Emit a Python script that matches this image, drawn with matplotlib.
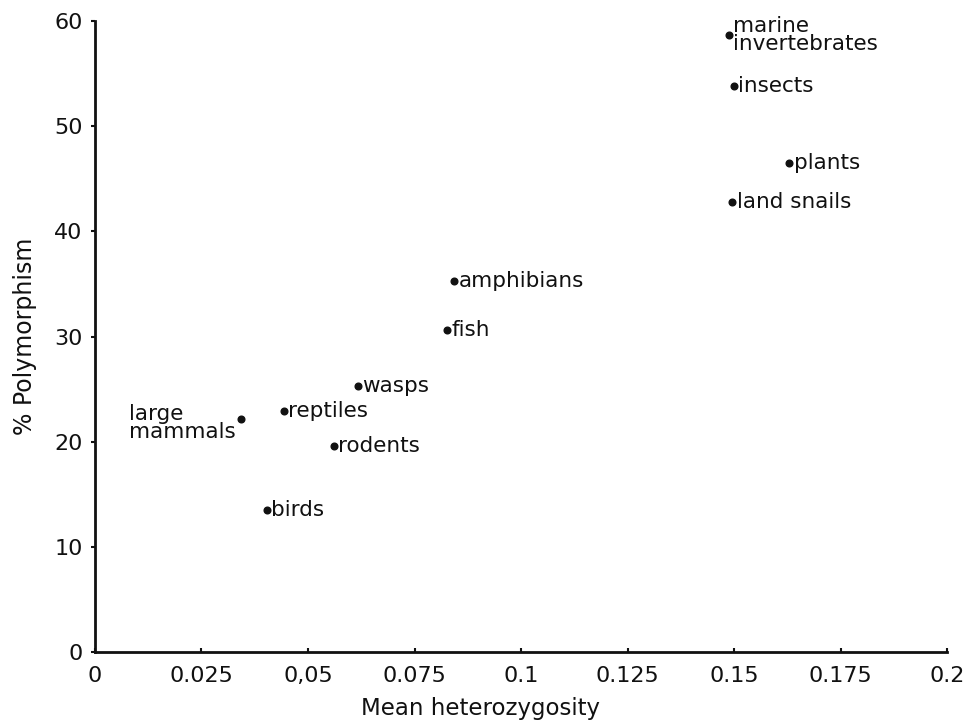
import matplotlib.pyplot as plt

# groups of organisms: mean heterozygosity vs % polymorphic loci
groups = ['marine\ninvertebrates', 'insects', 'plants', 'land snails', 'amphibians',
          'fish', 'wasps', 'reptiles', 'rodents', 'large\nmammals', 'birds']
heterozygosity = [0.1487, 0.1500, 0.1630, 0.1496, 0.0843, 0.0826, 0.0618, 0.0443, 0.0560, 0.0343, 0.0404]
polymorphism = [58.7, 53.8, 46.5, 42.8, 35.3, 30.6, 25.3, 22.9, 19.6, 22.2, 13.5]

x_ticks = [0, 0.025, 0.05, 0.075, 0.1, 0.125, 0.15, 0.175, 0.2]
x_ticklabels = ['0', '0.025', '0,05', '0.075', '0.1', '0.125', '0.15', '0.175', '0.2']
y_ticks = [0, 10, 20, 30, 40, 50, 60]

ink = '#111111'
fig = plt.figure(figsize=(9.75, 7.27), dpi=100)
ax = fig.add_axes([0.0974, 0.103, 0.874, 0.868])

ax.plot(heterozygosity, polymorphism, 'o', color=ink, markersize=4.8, clip_on=False)

for name, x, y in zip(groups, heterozygosity, polymorphism):
    if name.startswith('large'):
        ax.annotate(name, (x, y), xytext=(-4, -3), textcoords='offset points',
                    ha='right', va='center', multialignment='left',
                    fontsize=15.5, color=ink, linespacing=0.85)
    else:
        ax.annotate(name, (x, y), xytext=(3, 0), textcoords='offset points',
                    ha='left', va='center', fontsize=15.5, color=ink, linespacing=0.85)

ax.set_xlim(0, 0.2)
ax.set_ylim(0, 60)
ax.set_xticks(x_ticks)
ax.set_xticklabels(x_ticklabels)
ax.set_yticks(y_ticks)
ax.tick_params(labelsize=16, length=3, width=1.5, colors=ink, pad=6)
ax.tick_params(axis='x', direction='in', pad=10)

for s in ['top', 'right']:
    ax.spines[s].set_visible(False)
for s in ['left', 'bottom']:
    ax.spines[s].set_linewidth(2)
    ax.spines[s].set_color(ink)

ax.set_ylabel('% Polymorphism', fontsize=17, color=ink, labelpad=12)
fig.text(0.493, 0.026, 'Mean heterozygosity', fontsize=16.5, color=ink, ha='center', va='center')

fig.savefig('out.png', dpi=100)
